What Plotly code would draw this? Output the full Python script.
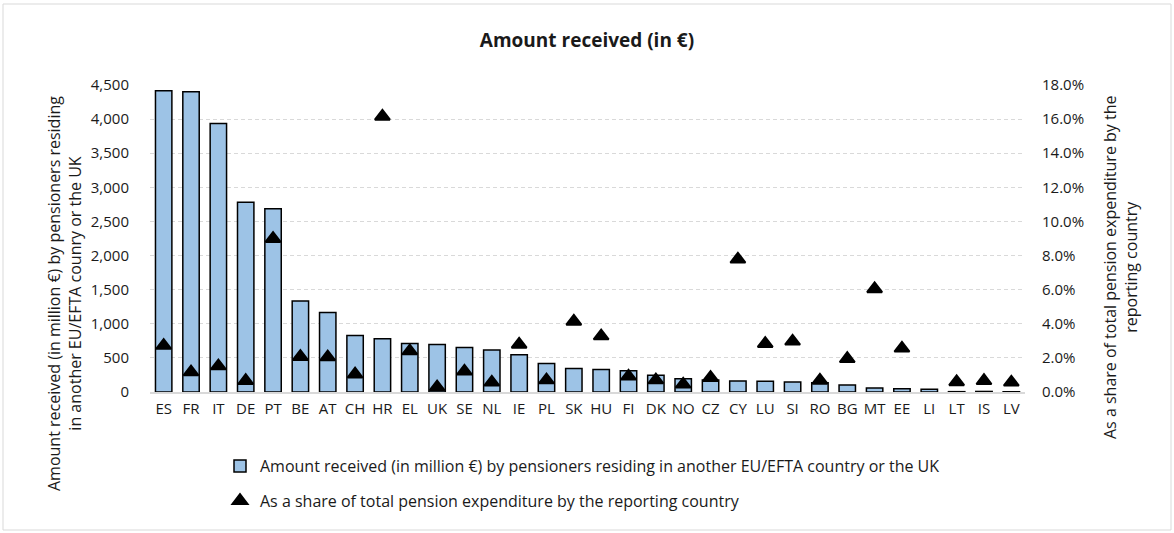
import plotly.graph_objects as go

countries = ["ES", "FR", "IT", "DE", "PT", "BE", "AT", "CH", "HR", "EL", "UK", "SE",
             "NL", "IE", "PL", "SK", "HU", "FI", "DK", "NO", "CZ", "CY", "LU", "SI",
             "RO", "BG", "MT", "EE", "LI", "LT", "IS", "LV"]
amounts = [4415, 4400, 3937, 2782, 2685, 1335, 1165, 829, 780, 712, 697, 653,
           614, 545, 418, 345, 330, 311, 244, 195, 175, 161, 156, 146,
           136, 102, 58, 48, 39, 5, 8, 4]
shares_pct = [2.72, 1.17, 1.52, 0.66, 8.99, 2.07, 2.05, 1.04, 16.16, 2.40, 0.29, 1.21,
              0.57, 2.79, 0.70, 4.14, 3.28, 0.92, 0.70, 0.45, 0.84, 7.78, 2.83, 2.97,
              0.68, 1.95, 6.04, 2.56, None, 0.59, 0.66, 0.57]
shares = [None if v is None else v / 100 for v in shares_pct]

bar_name = "Amount received (in million €) by pensioners residing in another EU/EFTA country or the UK"
tri_name = "As a share of total pension expenditure by the reporting country"
left_title = "Amount received (in million €) by pensioners residing<br>in another EU/EFTA counry or the UK"
right_title = "As a share of total pension expenditure by the<br>reporting country"

W, H = 1174, 533
L, R, T, B = 150, 149, 85, 141
PW, PH = W - L - R, H - T - B
FONT = "Open Sans"
TXT = "#1a1a1a"

def px_x(px):
    return (px - L) / PW

def px_y(py):
    return (H - B - py) / PH

fig = go.Figure()
fig.add_trace(go.Bar(
    x=countries, y=amounts, name=bar_name, width=0.6,
    marker=dict(color="#9DC3E6", line=dict(color="#000000", width=1.5)),
    legendgroup="a",
))
fig.add_trace(go.Scatter(
    x=countries, y=shares, name=tri_name, yaxis="y2", mode="markers",
    marker=dict(symbol="triangle-up", size=13, color="#000000",
                line=dict(color="#000000", width=2)),
    legendgroup="b",
))

fig.update_layout(
    width=W, height=H,
    margin=dict(l=L, r=R, t=T, b=B, autoexpand=False),
    paper_bgcolor="white", plot_bgcolor="white",
    font=dict(family=FONT, size=15, color=TXT),
    title=dict(text="<b>Amount received (in €)</b>", x=0.5, xref="container",
               y=1 - 40 / H, yref="container", xanchor="center", yanchor="middle",
               font=dict(family=FONT, size=19, color=TXT)),
    xaxis=dict(range=[-0.5, len(countries) - 0.5], autorange=False,
               showline=True, linecolor="#d9d9d9", linewidth=2, ticks="",
               showgrid=False, tickfont=dict(size=15), ticklabelstandoff=2),
    yaxis=dict(range=[0, 4500], dtick=500, tickformat=",", showline=False,
               showgrid=True, gridcolor="#d9d9d9", griddash="4px,3px", gridwidth=1,
               zeroline=False, ticks="", ticklabelstandoff=20, tickfont=dict(size=15)),
    yaxis2=dict(range=[0, 0.18], dtick=0.02, tickformat=".1%", overlaying="y",
                side="right", showgrid=False, zeroline=False, showline=False,
                ticks="", ticklabelstandoff=16, tickfont=dict(size=15)),
    legend=dict(orientation="v", xref="container", yref="container",
                x=220 / W, y=1 - 449 / H, xanchor="left", yanchor="top",
                tracegroupgap=11, font=dict(size=16, color=TXT),
                bgcolor="rgba(0,0,0,0)"),
    showlegend=True,
)

fig.add_annotation(text=left_title, textangle=-90, xref="paper", yref="paper",
                   x=px_x(64), y=px_y(294), xanchor="center", yanchor="middle",
                   showarrow=False, font=dict(size=16, color=TXT))
fig.add_annotation(text=right_title, textangle=-90, xref="paper", yref="paper",
                   x=px_x(1120), y=px_y(267), xanchor="center", yanchor="middle",
                   showarrow=False, font=dict(size=16, color=TXT))

fig.add_shape(type="rect", xref="paper", yref="paper",
              x0=px_x(3), x1=px_x(1171), y0=px_y(530), y1=px_y(4),
              line=dict(color="#d9d9d9", width=1), fillcolor="rgba(0,0,0,0)",
              layer="below")

fig.write_html("out.html", config={"displayModeBar": False},
               post_script="document.body.style.margin='0px';")
